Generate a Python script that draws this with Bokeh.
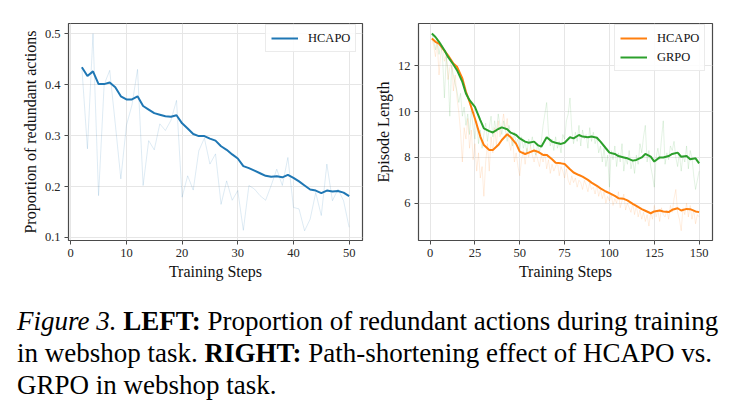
from bokeh.plotting import figure
from bokeh.models import Range1d, FixedTicker, PrintfTickFormatter, Legend, LegendItem, Div
from bokeh.layouts import column, row
from bokeh.embed import file_html
from bokeh.resources import INLINE

FONT = "Liberation Serif"

# ---------------- LEFT: proportion of redundant actions ----------------
left_steps = list(range(2, 51))
left_raw = [0.434, 0.274, 0.500, 0.182, 0.400, 0.428, 0.323, 0.215, 0.320, 0.360,
            0.430, 0.202, 0.290, 0.272, 0.323, 0.310, 0.330, 0.369, 0.179, 0.221,
            0.193, 0.270, 0.295, 0.244, 0.264, 0.165, 0.211, 0.173, 0.192, 0.114,
            0.202, 0.195, 0.182, 0.173, 0.202, 0.234, 0.202, 0.257, 0.159, 0.156,
            0.113, 0.136, 0.188, 0.143, 0.244, 0.172, 0.195, 0.172, 0.120]
left_smooth = [0.434, 0.417, 0.426, 0.401, 0.401, 0.404, 0.395, 0.377, 0.371, 0.371,
               0.377, 0.358, 0.351, 0.344, 0.341, 0.338, 0.337, 0.340, 0.324, 0.314,
               0.303, 0.299, 0.299, 0.294, 0.290, 0.279, 0.272, 0.263, 0.255, 0.240,
               0.236, 0.231, 0.226, 0.221, 0.219, 0.220, 0.218, 0.223, 0.217, 0.210,
               0.202, 0.194, 0.192, 0.187, 0.192, 0.190, 0.191, 0.188, 0.181]
left_xticks = [0, 10, 20, 30, 40, 50]
left_yticks = [0.1, 0.2, 0.3, 0.4, 0.5]

# ---------------- RIGHT: episode length ----------------
right_steps = list(range(1, 151))
hcapo_raw = [13.2, 12.9, 12.4, 13.0, 11.6, 12.6, 12.9, 12.2, 12.5, 11.4,
             11.9, 12.3, 10.9, 11.6, 10.6, 10.0, 9.1, 7.8, 9.3, 8.8,
             9.7, 8.4, 9.2, 7.9, 8.6, 7.4, 8.2, 7.1, 7.6, 6.3,
             7.8, 8.6, 7.4, 8.9, 8.2, 9.3, 8.5, 9.6, 8.9, 9.4,
             9.9, 9.2, 9.7, 8.7, 8.3, 8.9, 7.8, 8.2, 7.6, 7.2,
             7.9, 8.3, 7.7, 8.4, 8.0, 8.5, 8.1, 7.8, 8.2, 7.9,
             7.6, 8.1, 7.8, 8.2, 7.5, 7.9, 7.3, 7.7, 7.4, 7.6,
             7.8, 7.2, 7.6, 7.4, 7.1, 7.5, 7.0, 6.8, 7.2, 6.9,
             7.1, 6.7, 7.0, 6.9, 6.6, 7.0, 6.8, 6.5, 6.9, 6.6,
             6.7, 6.4, 6.8, 6.3, 6.6, 6.2, 6.5, 6.0, 6.3, 6.1,
             6.4, 5.9, 6.2, 6.0, 6.5, 5.8, 6.1, 6.4, 5.7, 6.0,
             5.8, 5.6, 6.0, 5.5, 5.9, 5.4, 5.7, 5.3, 5.6, 5.2,
             5.5, 5.0, 5.6, 5.3, 5.9, 5.4, 5.7, 5.2, 5.8, 5.5,
             5.4, 5.7, 5.3, 5.9, 5.6, 6.2, 6.6, 5.6, 5.3, 4.8,
             5.8, 5.5, 6.0, 5.4, 5.9, 5.3, 5.7, 5.1, 5.5, 5.4]
grpo_raw = [13.4, 13.1, 12.7, 13.2, 12.5, 13.0, 12.3, 10.6, 12.4, 11.8,
            9.8, 12.0, 11.6, 11.2, 10.9, 10.4, 10.8, 9.8, 10.2, 9.4,
            9.9, 9.0, 10.1, 9.3, 8.8, 9.6, 8.6, 9.2, 8.4, 9.0,
            9.5, 8.7, 9.3, 9.8, 8.9, 9.6, 9.1, 9.9, 9.4, 9.0,
            9.6, 9.2, 8.7, 9.4, 8.9, 8.5, 9.1, 8.6, 8.8, 8.3,
            8.9, 8.4, 8.7, 8.2, 8.8, 8.5, 8.9, 8.3, 8.1, 8.6,
            8.2, 8.7, 9.4, 9.9, 10.4, 9.1, 8.5, 8.8, 8.3, 8.9,
            8.4, 8.7, 8.2, 9.0, 8.8, 9.6, 9.9, 10.6, 9.2, 8.6,
            9.1, 8.7, 9.4, 8.5, 9.2, 8.8, 9.0, 8.4, 9.3, 8.7,
            9.1, 8.6, 8.9, 8.2, 8.5, 7.8, 8.4, 7.6, 8.1, 6.7,
            8.3, 7.9, 8.5, 7.6, 8.2, 7.8, 8.6, 7.4, 8.0, 7.7,
            8.3, 7.5, 7.9, 7.3, 8.1, 7.7, 8.6, 8.2, 8.9, 9.4,
            7.8, 8.3, 7.6, 7.2, 6.7, 8.0, 8.4, 7.9, 8.8, 9.6,
            7.7, 8.2, 7.9, 8.5, 8.3, 8.7, 8.0, 7.6, 8.2, 7.4,
            8.1, 7.8, 8.5, 7.5, 8.3, 8.0, 7.2, 6.6, 7.0, 7.4]
hcapo_smooth_x = [1, 3, 5, 8, 10, 13, 15, 18, 20, 22, 25, 28, 30, 33, 35, 38, 40, 43, 45, 48,
                  50, 53, 55, 58, 60, 63, 65, 68, 70, 73, 75, 78, 80, 83, 85, 88, 90, 93, 95, 98,
                  100, 103, 105, 108, 110, 113, 115, 118, 120, 123, 125, 128, 130, 133, 135, 138,
                  140, 143, 145, 148, 150]
hcapo_smooth = [13.19, 13.05, 12.97, 12.66, 12.46, 12.10, 11.96, 11.45, 10.87, 10.43,
                9.70, 8.91, 8.54, 8.32, 8.32, 8.54, 8.76, 9.01, 8.88, 8.59,
                8.25, 8.15, 8.21, 8.30, 8.25, 8.11, 8.11, 7.92, 7.77, 7.74,
                7.71, 7.48, 7.34, 7.23, 7.16, 7.02, 6.90, 6.76, 6.65, 6.51,
                6.44, 6.32, 6.22, 6.19, 6.12, 5.97, 5.88, 5.74, 5.67, 5.56,
                5.64, 5.68, 5.64, 5.61, 5.71, 5.78, 5.68, 5.75, 5.74, 5.64, 5.61]
grpo_smooth_x = [1, 3, 5, 8, 10, 13, 15, 18, 20, 22, 25, 28, 30, 33, 35, 38, 40, 43, 45, 48,
                 50, 53, 55, 58, 60, 62, 65, 68, 70, 73, 75, 78, 80, 83, 85, 88, 90, 93, 95, 98,
                 100, 103, 105, 108, 110, 113, 115, 118, 120, 123, 125, 128, 130, 133, 135, 138,
                 140, 143, 145, 148, 150]
grpo_smooth = [13.41, 13.26, 13.05, 12.68, 12.39, 12.06, 11.81, 11.30, 10.79, 10.50,
               10.21, 9.63, 9.27, 9.15, 9.09, 9.24, 9.31, 9.23, 9.08, 8.98,
               8.83, 8.69, 8.64, 8.69, 8.54, 8.47, 8.88, 8.69, 8.64, 8.59,
               8.64, 8.88, 8.83, 8.98, 8.91, 8.88, 8.91, 8.86, 8.69, 8.40,
               8.21, 8.15, 8.06, 8.00, 7.96, 7.86, 7.89, 8.00, 8.15, 8.03,
               7.82, 8.00, 8.00, 8.06, 8.15, 8.21, 8.03, 8.06, 7.92, 7.96, 7.74]
right_xticks = [0, 25, 50, 75, 100, 125, 150]
right_yticks = [6, 8, 10, 12]

BLUE = "#1f77b4"
ORANGE = "#ff7f0e"
GREEN = "#2ca02c"


def style(p, xticks, yticks, xlabel, ylabel, yfmt):
    p.background_fill_color = "white"
    p.border_fill_color = "white"
    p.outline_line_color = "#4a4a4a"
    p.outline_line_width = 1.2
    p.xaxis.ticker = FixedTicker(ticks=xticks)
    p.yaxis.ticker = FixedTicker(ticks=yticks)
    p.yaxis.formatter = PrintfTickFormatter(format=yfmt)
    p.xaxis.axis_label = xlabel
    p.yaxis.axis_label = ylabel
    for ax in (p.xaxis[0], p.yaxis[0]):
        ax.axis_line_color = None
        ax.major_tick_line_color = "#4a4a4a"
        ax.major_tick_line_width = 1
        ax.major_tick_out = 4
        ax.major_tick_in = 0
        ax.minor_tick_line_color = None
        ax.major_label_text_font = FONT
        ax.major_label_text_font_size = "12.5px"
        ax.major_label_text_color = "#262626"
        ax.major_label_standoff = 4
        ax.axis_label_text_font = FONT
        ax.axis_label_text_font_size = "16px"
        ax.axis_label_text_font_style = "normal"
        ax.axis_label_text_color = "#111111"
        ax.axis_label_standoff = 3
    for g in (p.xgrid[0], p.ygrid[0]):
        g.grid_line_color = "#e6e6e6"
        g.grid_line_width = 1


def make_legend(items, loc):
    return Legend(items=items, location=loc,
                  background_fill_color="white", background_fill_alpha=0.85,
                  border_line_color="#dddddd", border_line_alpha=0.6,
                  label_text_font=FONT, label_text_font_size="12.5px",
                  label_text_color="#111111",
                  glyph_width=27, glyph_height=16, label_height=16,
                  label_standoff=10, padding=5, spacing=3, margin=0)


# Left figure
p1 = figure(width=370, height=290, output_backend="svg", toolbar_location=None,
            x_range=Range1d(-0.4, 52.4), y_range=Range1d(0.094, 0.52),
            min_border_left=68, min_border_right=8, min_border_top=23, min_border_bottom=50)
style(p1, left_xticks, left_yticks, "Training Steps", "Proportion of redundant actions", "%.1f")
p1.line(left_steps, left_raw, line_color=BLUE, line_alpha=0.15, line_width=1)
r1 = p1.line(left_steps, left_smooth, line_color=BLUE, line_width=2)
p1.add_layout(make_legend([LegendItem(label="HCAPO", renderers=[r1])], (197, 188)))

# Right figure
p2 = figure(width=370, height=290, output_backend="svg", toolbar_location=None,
            x_range=Range1d(-6.45, 157.45), y_range=Range1d(4.37, 13.85),
            min_border_left=48, min_border_right=28, min_border_top=23, min_border_bottom=50)
style(p2, right_xticks, right_yticks, "Training Steps", "Episode Length", "%d")
p2.line(right_steps, hcapo_raw, line_color=ORANGE, line_alpha=0.13, line_width=1)
p2.line(right_steps, grpo_raw, line_color=GREEN, line_alpha=0.13, line_width=1)
r2a = p2.line(hcapo_smooth_x, hcapo_smooth, line_color=ORANGE, line_width=2)
r2b = p2.line(grpo_smooth_x, grpo_smooth, line_color=GREEN, line_width=2)
p2.add_layout(make_legend([LegendItem(label="HCAPO", renderers=[r2a]),
                           LegendItem(label="GRPO", renderers=[r2b])], (196, 169)))

caption_html = (
    '<div style="font-family: \'Liberation Serif\', serif; font-size: 27px; line-height: 32px; '
    'color: #000; padding-left: 17px; padding-top: 15px; white-space: nowrap;">'
    '<i>Figure 3.</i> <b>LEFT:</b> Proportion of redundant actions during training<br>'
    'in webshop task. <b>RIGHT:</b> Path-shortening effect of HCAPO vs.<br>'
    'GRPO in webshop task.</div>'
)
cap = Div(text=caption_html, width=740, height=122, margin=(0, 0, 0, 0))

layout = column(row(p1, p2), cap)
open("out.html", "w").write(file_html(layout, INLINE))
